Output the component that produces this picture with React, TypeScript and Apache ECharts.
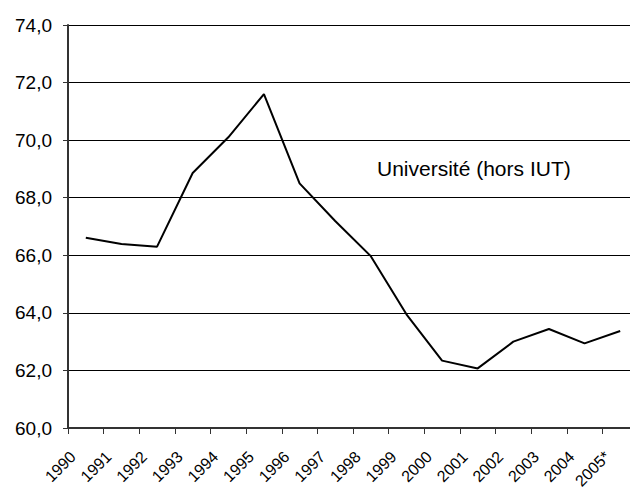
import React, { useEffect, useRef } from "react";
import * as echarts from "echarts";

const years = ["1990", "1991", "1992", "1993", "1994", "1995", "1996", "1997", "1998", "1999", "2000", "2001", "2002", "2003", "2004", "2005*"];
const values = [66.61, 66.39, 66.3, 68.86, 70.1, 71.6, 68.5, 67.19, 65.97, 63.95, 62.34, 62.07, 63.0, 63.44, 62.94, 63.37];
const seriesLabel = "Université (hors IUT)";
const yMin = 60;
const yMax = 74;
const yStep = 2;

export default function App() {
  const ref = useRef<HTMLDivElement>(null);
  useEffect(() => {
    document.body.style.margin = "0";
    const chart = echarts.init(ref.current!, null, { renderer: "svg" });
    const font = "'Liberation Sans', Arial, sans-serif";
    chart.setOption({
      animation: false,
      backgroundColor: "#fff",
      grid: [
        { left: 68, width: 570, top: 25, bottom: 61, containLabel: false, outerBoundsMode: "none" },
        { left: 73, width: 570, top: 25, bottom: 61, containLabel: false, outerBoundsMode: "none" },
      ],
      xAxis: [
        {
          type: "category",
          gridIndex: 0,
          data: years,
          boundaryGap: true,
          axisLine: { show: true, lineStyle: { color: "#333", width: 2 } },
          axisTick: { show: true, interval: 0, length: 6, lineStyle: { color: "#333", width: 1 } },
          axisLabel: { show: false },
          splitLine: { show: false },
        },
        {
          type: "category",
          gridIndex: 1,
          data: [...years, ""],
          boundaryGap: false,
          axisLine: { show: false },
          axisTick: { show: false },
          axisLabel: {
            show: true,
            interval: 0,
            rotate: 45,
            margin: 26,
            color: "#000",
            fontSize: 16,
            fontFamily: font,
          },
          splitLine: { show: false },
        },
      ],
      yAxis: [
        {
          type: "value",
          gridIndex: 0,
          min: yMin,
          max: yMax,
          interval: yStep,
          axisLine: { show: true, lineStyle: { color: "#333", width: 2 } },
          axisTick: { show: true, length: 5, lineStyle: { color: "#333", width: 1 } },
          axisLabel: {
            color: "#000",
            fontSize: 19,
            fontFamily: font,
            margin: 16,
            formatter: (v: number) => v.toFixed(1).replace(".", ","),
          },
          splitLine: { show: true, lineStyle: { color: "#000", width: 1 } },
        },
        { type: "value", gridIndex: 1, min: yMin, max: yMax, show: false },
      ],
      series: [
        {
          type: "line",
          xAxisIndex: 0,
          yAxisIndex: 0,
          data: values,
          symbol: "none",
          lineStyle: { color: "#000", width: 2 },
        },
      ],
      graphic: [
        {
          type: "text",
          left: 377,
          top: 158,
          style: {
            text: seriesLabel,
            fill: "#000",
            fontSize: 21,
            fontFamily: font,
          },
        },
      ],
    });
    return () => chart.dispose();
  }, []);
  return <div ref={ref} style={{ width: 630, height: 489 }} />;
}
